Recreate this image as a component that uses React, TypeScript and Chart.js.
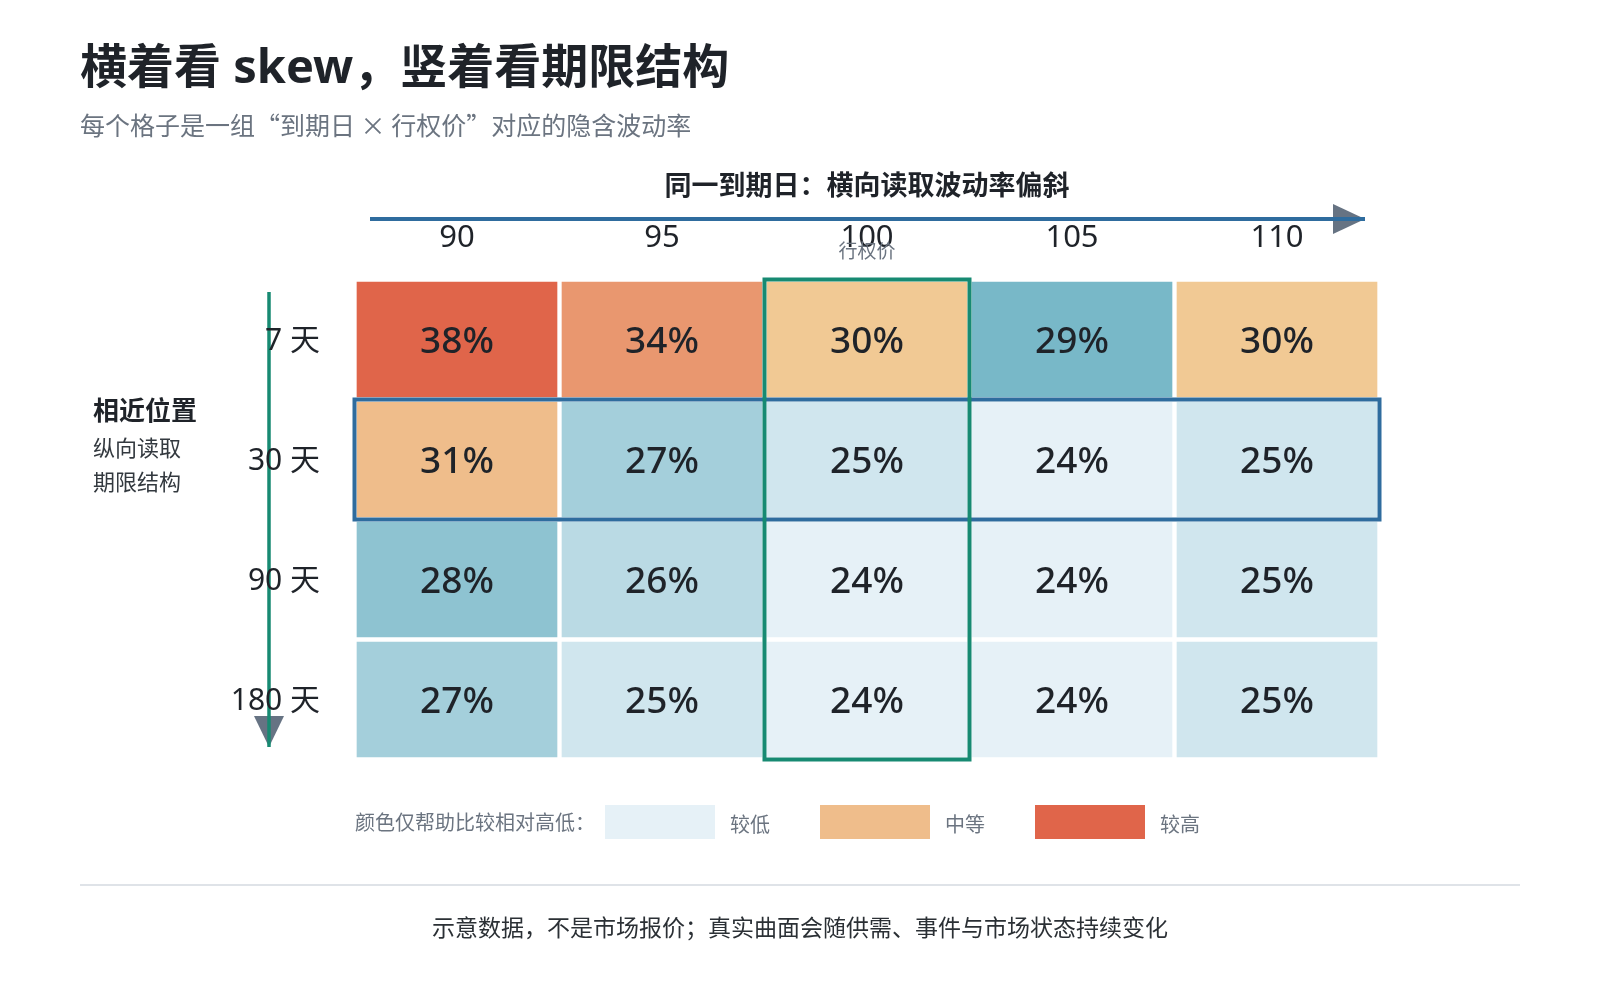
import { useEffect, useRef } from 'react'
import { Chart, registerables } from 'chart.js'

Chart.register(...registerables)

// strike (columns) and expiry (rows)
const strikes = ['90', '95', '100', '105', '110']
const tenors = ['7 天', '30 天', '90 天', '180 天']

// implied vol, percent, one array per expiry
const iv7 = [38, 34, 30, 29, 30]
const iv30 = [31, 27, 25, 24, 25]
const iv90 = [28, 26, 24, 24, 25]
const iv180 = [27, 25, 24, 24, 25]
const ivRows = [iv7, iv30, iv90, iv180]

const highlightStrike = '100'
const highlightTenor = '30 天'

const legendLabels = ['较低', '中等', '较高']
const legendValues = [24, 31, 38]

const LATIN = '"Noto Sans", "Noto Sans CJK SC", sans-serif'
const CJK = '"Noto Sans CJK SC", "Noto Sans", sans-serif'

const mix = (a: number[], b: number[], t: number) =>
  `rgb(${a.map((v, i) => Math.round(v + (b[i] - v) * t)).join(',')})`

// below 30: pale -> deeper blue, 30 and up: sand -> red
const colorFor = (v: number) => {
  if (v < 30) return mix([230, 241, 247], [120, 184, 200], Math.max(0, (v - 24) / 5))
  return mix([241, 201, 148], [224, 101, 74], Math.min(1, (v - 30) / 8))
}

const drawText = (
  ctx: CanvasRenderingContext2D,
  str: string,
  x: number,
  y: number,
  font: string,
  color: string,
  align: CanvasTextAlign = 'left'
) => {
  ctx.font = font
  ctx.fillStyle = color
  ctx.textAlign = align
  ctx.textBaseline = 'middle'
  ctx.fillText(str, x, y)
}

const annotations = {
  id: 'annotations',
  afterDatasetsDraw(chart: any) {
    const { ctx, chartArea: a, scales } = chart
    const xs = scales.x
    const ys = scales.y
    ctx.save()

    // headline
    drawText(ctx, '横着看 skew，竖着看期限结构', 80, 70, `bold 47px ${LATIN}`, '#1f2329')
    drawText(ctx, '每个格子是一组“到期日 × 行权价”对应的隐含波动率', 80, 125, `25px ${CJK}`, '#6b7480')

    // cell values
    chart.data.datasets.forEach((_: any, i: number) => {
      const meta = chart.getDatasetMeta(i)
      meta.data.forEach((el: any, j: number) => {
        drawText(ctx, `${ivRows[i][j]}%`, el.x, (el.y + el.base) / 2 + 3, `500 37px ${LATIN}`, '#1f2329', 'center')
      })
    })

    // row box (one expiry) then column box (one strike)
    const r = tenors.indexOf(highlightTenor)
    const rTop = ys.getPixelForValue(r - 0.5)
    const rBottom = ys.getPixelForValue(r + 0.5)
    ctx.lineWidth = 4
    ctx.strokeStyle = '#2f6c9e'
    ctx.strokeRect(a.left, rTop, a.right - a.left, rBottom - rTop)

    const c = strikes.indexOf(highlightStrike)
    const half = (a.right - a.left) / strikes.length / 2
    const cx = xs.getPixelForValue(c)
    ctx.strokeStyle = '#178a72'
    ctx.strokeRect(cx - half, a.top, half * 2, a.bottom - a.top)

    // top axis: strikes
    drawText(ctx, '同一到期日：横向读取波动率偏斜', (a.left + a.right) / 2, a.top - 95, `bold 27px ${CJK}`, '#1f2329', 'center')
    const ay = a.top - 60.5
    const ax1 = a.right - 14.5
    ctx.fillStyle = '#667383'
    ctx.beginPath()
    ctx.moveTo(ax1 - 32, ay - 15)
    ctx.lineTo(ax1, ay)
    ctx.lineTo(ax1 - 32, ay + 15)
    ctx.closePath()
    ctx.fill()
    ctx.strokeStyle = '#2f6c9e'
    ctx.lineWidth = 4
    ctx.beginPath()
    ctx.moveTo(a.left + 15.5, ay)
    ctx.lineTo(ax1, ay)
    ctx.stroke()

    strikes.forEach((s, i) => {
      drawText(ctx, s, xs.getPixelForValue(i), a.top - 41, `31px ${LATIN}`, '#1f2329', 'center')
    })
    drawText(ctx, '行权价', xs.getPixelForValue(c), a.top - 29, `19px ${CJK}`, '#6b7480', 'center')

    // left axis: expiries
    const lx = a.left - 85.5
    ctx.fillStyle = '#667383'
    ctx.beginPath()
    ctx.moveTo(lx - 15, a.bottom - 43.5)
    ctx.lineTo(lx + 15, a.bottom - 43.5)
    ctx.lineTo(lx, a.bottom - 12.5)
    ctx.closePath()
    ctx.fill()
    ctx.strokeStyle = '#178a72'
    ctx.lineWidth = 3.5
    ctx.beginPath()
    ctx.moveTo(lx, a.top + 12.5)
    ctx.lineTo(lx, a.bottom - 12.5)
    ctx.stroke()

    tenors.forEach((t, i) => {
      drawText(ctx, t, a.left - 34.5, ys.getPixelForValue(i) + 2, `30px ${LATIN}`, '#1f2329', 'right')
    })

    drawText(ctx, '相近位置', 93, 410, `bold 26px ${CJK}`, '#1f2329')
    drawText(ctx, '纵向读取', 93, 448, `22px ${CJK}`, '#33393f')
    drawText(ctx, '期限结构', 93, 482, `22px ${CJK}`, '#33393f')

    // colour key
    const ly = a.bottom + 62.5
    drawText(ctx, '颜色仅帮助比较相对高低：', a.left + 0.5, ly, `20px ${CJK}`, '#6b7480')
    legendLabels.forEach((label, i) => {
      const sx = a.left + 250.5 + i * 215
      ctx.fillStyle = colorFor(legendValues[i])
      ctx.fillRect(sx, ly - 17, 110, 34)
      drawText(ctx, label, sx + 125, ly + 2, `20px ${CJK}`, '#6b7480')
    })

    // footer
    ctx.strokeStyle = '#dfe3e8'
    ctx.lineWidth = 2
    ctx.beginPath()
    ctx.moveTo(80, 885)
    ctx.lineTo(1520, 885)
    ctx.stroke()
    drawText(ctx, '示意数据，不是市场报价；真实曲面会随供需、事件与市场状态持续变化', 800, 927, `23px ${CJK}`, '#2b3035', 'center')

    ctx.restore()
  }
}

const App = () => {
  const canvasRef = useRef<HTMLCanvasElement>(null)

  useEffect(() => {
    if (!canvasRef.current) return
    const chart = new Chart(canvasRef.current, {
      type: 'bar',
      data: {
        labels: strikes,
        datasets: ivRows.map((row, i) => ({
          label: tenors[i],
          data: row.map(() => [i - 0.5, i + 0.5]),
          backgroundColor: row.map(colorFor),
          borderColor: '#ffffff',
          borderWidth: 2.5,
          borderSkipped: false,
          grouped: false,
          categoryPercentage: 1,
          barPercentage: 1
        })) as any
      },
      options: {
        responsive: false,
        animation: false,
        events: [],
        layout: { padding: { left: 354.5, right: 220.5, top: 279.5, bottom: 240.5 } },
        plugins: {
          legend: { display: false },
          tooltip: { enabled: false }
        },
        scales: {
          x: { display: false, grid: { display: false } },
          y: { display: false, min: -0.5, max: 3.5, reverse: true, grid: { display: false } }
        }
      },
      plugins: [annotations]
    })
    return () => chart.destroy()
  }, [])

  return (
    <div style={{ position: 'absolute', left: 0, top: 0, width: 1600, height: 1000, background: '#fff' }}>
      <canvas ref={canvasRef} width={1600} height={1000} style={{ display: 'block' }}></canvas>
    </div>
  )
}

export default App
